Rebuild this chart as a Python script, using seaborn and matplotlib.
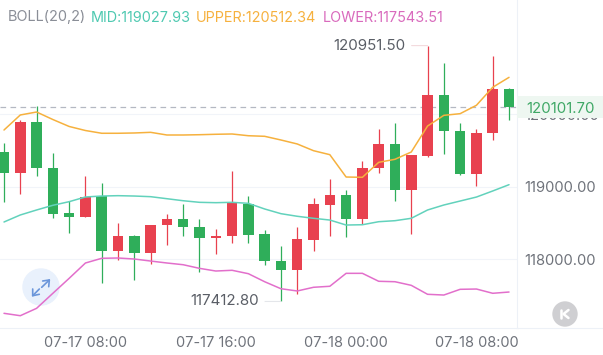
import numpy as np
import pandas as pd
import seaborn as sns
import matplotlib.pyplot as plt
from matplotlib.patches import Rectangle, Circle
from matplotlib.lines import Line2D
from matplotlib.transforms import IdentityTransform

# hourly candles
opens = [119480,119190,119895,119263,118632,118585,118867,118111,118314,118087,118466,118557,118443,118295,118314,118765,118342,117977,117852,118263,118751,118881,118549,119254,119591,118950,119429,120264,119774,119176,119739,120355]
highs = [119600,119920,120110,119470,118802,119152,119055,118502,118336,118474,118618,118761,118549,118411,119221,118867,118397,118180,118447,118840,119102,118954,119355,119794,119885,119438,120951.5,120715,119885,119794,120808,120365]
lows = [118784,118899,119152,118563,118364,118585,117668,117982,117706,117927,118190,118314,117816,118069,118226,118217,117917,117412.8,117520,118115,118322,118300,118488,119194,118806,118350,119415,119456,119162,119010,119646,119918]
closes = [119190,119895,119254,118622,118585,118862,118115,118314,118087,118474,118557,118439,118291,118322,118770,118332,117968,117852,118273,118761,118885,118549,119263,119591,118950,119438,120264,119770,119176,119743,120355,120101.7]

upper = [119784,119992,120033,119929,119833,119777,119739,119739,119743,119752,119715,119715,119719,119725,119729,119705,119697,119646,119591,119498,119443,119134,119130,119337,119379,119480,119839,119987,120010,120126,120375,120512.34]
mid = [118512,118609,118678,118743,118793,118858,118871,118876,118871,118862,118834,118806,118784,118779,118784,118770,118692,118627,118591,118563,118539,118470,118474,118516,118530,118563,118678,118747,118802,118857,118941,119027.93]
lower = [117249,117216,117318,117526,117733,117945,118010,118014,118000,117972,117945,117921,117871,117834,117844,117797,117686,117589,117558,117609,117623,117802,117802,117692,117686,117636,117512,117502,117581,117585,117526,117543.51]

time_pos = [5,13,21,29]
time_labels = ['07-17 08:00','07-17 16:00','07-18 00:00','07-18 08:00']
price_ticks = [118000,119000,120000]

RED = '#E8414F'
GREEN = '#2FAE5A'
GRID = '#F1F4F9'
FONT = 'Inter'

sns.set_theme(style='white')
plt.rcParams['font.family'] = FONT

df = pd.DataFrame({'i':np.arange(len(opens)),'open':opens,'high':highs,'low':lows,'close':closes,
                   'upper':upper,'mid':mid,'lower':lower})
df['up'] = df['close'] >= df['open']
colors = [RED if u else GREEN for u in df['up']]

W,H = 603,355
fig = plt.figure(figsize=(W/100,H/100),dpi=100)
ax = fig.add_axes([0,(H-328)/H,517/W,328/H])

# pixel helpers for the decorations
def px(x,y):
    return (x,H-y)
trans = IdentityTransform()

def icon(points,color,lw,z):
    xs = [p[0] for p in points]
    ys = [H-p[1] for p in points]
    ax.add_line(Line2D(xs,ys,transform=trans,color=color,lw=lw,zorder=z,clip_on=False,solid_capstyle='round'))

# expand button sits behind the lines
ax.add_patch(Circle(px(41,287),18,transform=trans,color='#E9F1FC',zorder=0.5,clip_on=False))
icon([(42.7,281),(49.3,280),(48.7,286.7)],'#6B96DA',1.2,0.6)
icon([(49.3,280),(41.7,287.3)],'#6B96DA',1.2,0.6)
icon([(32.7,289),(32.7,295.7),(39.3,294.3)],'#6B96DA',1.2,0.6)
icon([(32.7,295.7),(39.3,289)],'#6B96DA',1.2,0.6)

ax.vlines(df['i'],df['low'],df['high'],colors=colors,lw=0.9,zorder=2)
ax.bar(df['i'],(df['close']-df['open']).abs(),bottom=df[['open','close']].min(axis=1),
       width=0.645,color=colors,linewidth=0,zorder=2.2)

sns.lineplot(data=df,x='i',y='upper',color='#F6B13E',lw=1.1,ax=ax,zorder=3)
sns.lineplot(data=df,x='i',y='mid',color='#62D2BC',lw=1.1,ax=ax,zorder=3)
sns.lineplot(data=df,x='i',y='lower',color='#E26FCB',lw=1.1,ax=ax,zorder=3)

ax.set_xlim(-0.2455,31.49)
ax.set_ylim(117046,121582)
ax.set_xlabel('')
ax.set_ylabel('')
ax.set_xticks(time_pos)
ax.set_xticklabels(time_labels)
ax.set_yticks(price_ticks)
ax.yaxis.tick_right()
ax.set_yticklabels(['%.2f'%p for p in price_ticks])
ax.tick_params(axis='x',length=0,pad=5.5,labelsize=10.5,labelcolor='#6F737B')
ax.tick_params(axis='y',length=0,pad=5,labelsize=10.6,labelcolor='#6F737B')
ax.grid(axis='y',color=GRID,lw=0.8)
ax.set_axisbelow(True)
for s in ['top','left']:
    ax.spines[s].set_visible(False)
for s in ['right','bottom']:
    ax.spines[s].set_color('#EDF1F7')
    ax.spines[s].set_linewidth(0.8)
fig.add_artist(Line2D([517/W,1],[(H-328)/H]*2,color='#EDF1F7',lw=0.8))

# last price line and tag
last = closes[-1]
ax.axhline(last,color='#B4B8C2',lw=0.9,ls=(0,(4.5,3.5)),zorder=1.5)
yt = ax.get_yaxis_transform()
ax.add_patch(Rectangle((1,last-150),86/517,300,transform=yt,color='#EEF7F1',lw=0,clip_on=False,zorder=5))
ax.text(1+9/517,last,'%.2f'%last,transform=yt,color='#3FA866',fontsize=10.8,va='center_baseline',ha='left',zorder=6,clip_on=False)

# max / min labels
imax = int(np.argmax(highs))
imin = int(np.argmin(lows))
ax.annotate('%.2f'%highs[imax],xy=(imax,highs[imax]),xytext=(-22,0),textcoords='offset pixels',
            ha='right',va='center',fontsize=10.9,color='#5A5E66',zorder=6,
            arrowprops=dict(arrowstyle='-',color='#F3DADD',lw=0.8,shrinkA=2,shrinkB=0))
ax.annotate('%.2f'%lows[imin],xy=(imin,lows[imin]),xytext=(-22,0),textcoords='offset pixels',
            ha='right',va='center',fontsize=10.9,color='#5A5E66',zorder=6,
            arrowprops=dict(arrowstyle='-',color='#E4E6EA',lw=0.8,shrinkA=2,shrinkB=0))

# header
header = [(8,'BOLL(20,2)','#8A8E97'),(91,'MID:%.2f'%mid[-1],'#4FC9B1'),
          (196,'UPPER:%.2f'%upper[-1],'#F6B13E'),(323,'LOWER:%.2f'%lower[-1],'#D96BBD')]
for x,s,c in header:
    fig.text(x/W,1-17.5/H,s,color=c,fontsize=10.4,va='center',ha='left')

# jump to latest button
ax.add_patch(Circle(px(565,314),12,transform=trans,color='#CFCFD2',zorder=4,clip_on=False))
icon([(561,310),(561,318)],'white',1.8,5)
icon([(568.5,310),(563.5,314),(568.5,318)],'white',1.8,5)

fig.savefig('out.png',dpi=100)
